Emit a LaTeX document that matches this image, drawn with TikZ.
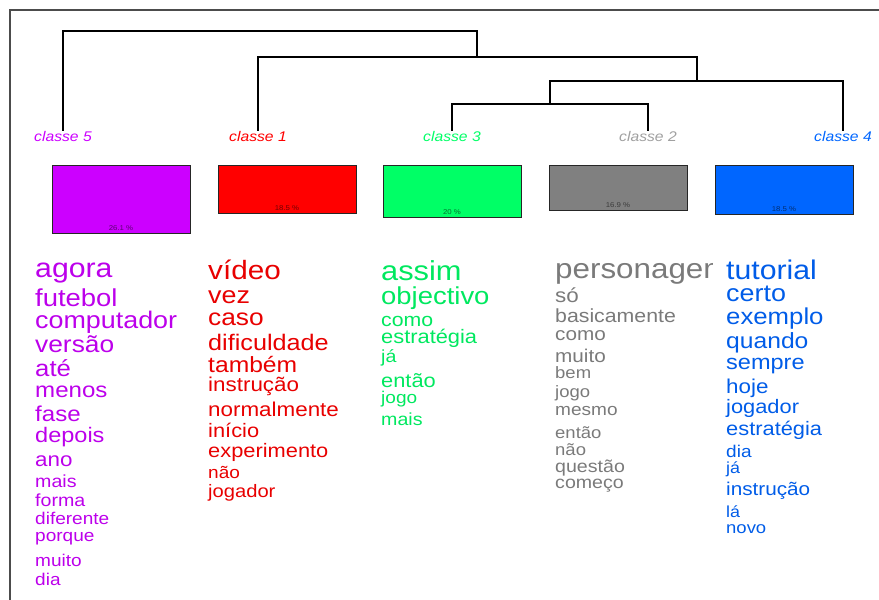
\documentclass[tikz,border=0pt]{standalone}
\usepackage{fontspec}
\setmainfont{Liberation Sans}[FakeStretch=1.12]
\usetikzlibrary{positioning}

% class colours: bar fill, word text, leaf label
\definecolor{cl5}{RGB}{204,0,255}
\definecolor{cl1}{RGB}{255,0,0}
\definecolor{cl3}{RGB}{0,255,102}
\definecolor{cl2}{RGB}{128,128,128}
\definecolor{cl4}{RGB}{0,102,255}
\definecolor{tx5}{RGB}{188,0,235}
\definecolor{tx1}{RGB}{232,0,0}
\definecolor{tx3}{RGB}{0,232,95}
\definecolor{tx2}{RGB}{122,122,122}
\definecolor{tx4}{RGB}{0,92,232}
\definecolor{lb2}{RGB}{160,160,160}

\begin{document}
\begin{tikzpicture}[
  x=1pt, y=-1pt,
  frame/.style={draw=black!70, line width=1.4pt},
  branch/.style={draw=black, line width=1.1pt},
  cls/.style={font=\fontsize{14}{15}\selectfont\itshape, anchor=base, inner sep=0pt},
  bar/.style={draw=black!85, line width=0.8pt, minimum width=138pt, anchor=north, inner sep=0pt},
  pct/.style={font=\fontsize{7}{8}\selectfont, inner sep=0pt},
  word/.style={anchor=base west, inner sep=0pt}
]
\useasboundingbox (0,0) rectangle (879,600);
\draw[frame] (10,600) |- (879,10);

% leaves of the tree
\node[cls, text=cl5] (c5) at (63,141) {classe 5};
\node[cls, text=cl1] (c1) at (258,141) {classe 1};
\node[cls, text=cl3] (c3) at (452,141) {classe 3};
\node[cls, text=lb2] (c2) at (648,141) {classe 2};
\node[cls, text=cl4] (c4) at (843,141) {classe 4};

% merge points
\coordinate (m1) at (270,31);
\coordinate (m2) at (477,57);
\coordinate (m3) at (697,81);
\coordinate (m4) at (550,104);

\draw[branch] (c3.north) |- (m4) -| (c2.north);
\draw[branch] (m4) |- (m3) -| (c4.north);
\draw[branch] (c1.north) |- (m2) -| (m3);
\draw[branch] (c5.north) |- (m1) -| (m2);

% class sizes
\node[bar, fill=cl5, minimum height=68pt] (b5) at (121,165) {};
\node[bar, fill=cl1, minimum height=48pt] (b1) at (287,165) {};
\node[bar, fill=cl3, minimum height=52pt] (b3) at (452,165) {};
\node[bar, fill=cl2, minimum height=45pt] (b2) at (618,165) {};
\node[bar, fill=cl4, minimum height=49pt] (b4) at (784,165) {};

\node[pct, text=black!55!cl5, above=3pt of b5.south] (p5) {26.1 \%};
\node[pct, text=black!55!cl1, above=3pt of b1.south] (p1) {18.5 \%};
\node[pct, text=black!55!cl3, above=3pt of b3.south] (p3) {20 \%};
\node[pct, text=black!55!cl2, above=3pt of b2.south] (p2) {16.9 \%};
\node[pct, text=black!55!cl4, above=3pt of b4.south] (p4) {18.5 \%};

% word lists: word / size / baseline
\foreach \w/\s/\y [count=\i] in {agora/27/277, futebol/24.5/306, computador/24/328,
    versão/23.5/352, até/23/376, menos/21.5/397, fase/21.5/421, depois/21/442,
    ano/20/466, mais/17.5/487, forma/17.5/506, diferente/17/524, porque/17/541,
    muito/17/566, dia/17/585}
  \node[word, text=tx5, font=\fontsize{\s}{\s}\selectfont] (w5-\i) at (35,\y) {\w};

\foreach \w/\s/\y [count=\i] in {vídeo/26.5/279, vez/24/303, caso/23.5/325,
    dificuldade/22.5/350, também/22/372, instrução/20/391, normalmente/20/416,
    início/19.5/437, experimento/19.5/457, não/17/478, jogador/18/497}
  \node[word, text=tx1, font=\fontsize{\s}{\s}\selectfont] (w1-\i) at (208,\y) {\w};

\foreach \w/\s/\y [count=\i] in {assim/27.5/280, objectivo/24.5/304, como/19/326,
    estratégia/19.5/343, já/17.5/362, então/19.5/387, jogo/17/403, mais/17.5/425}
  \node[word, text=tx3, font=\fontsize{\s}{\s}\selectfont] (w3-\i) at (381,\y) {\w};

\begin{scope}
  \clip (540,240) rectangle (712,600);
  \foreach \w/\s/\y [count=\i] in {personagem/28/278, só/20/302, basicamente/19/322,
      como/18.5/340, muito/18.5/362, bem/16.5/378, jogo/16.5/397, mesmo/17/415,
      então/16.5/438, não/16.5/455, questão/17.5/472, começo/17.5/488}
    \node[word, text=tx2, font=\fontsize{\s}{\s}\selectfont] (w2-\i) at (555,\y) {\w};
\end{scope}

\foreach \w/\s/\y [count=\i] in {tutorial/27/279, certo/24/301, exemplo/23/324,
    quando/22/348, sempre/21/369, hoje/20/393, jogador/19.5/413, estratégia/19.5/435,
    dia/17/457, já/16/473, instrução/18.5/495, lá/16/517, novo/16.5/533}
  \node[word, text=tx4, font=\fontsize{\s}{\s}\selectfont] (w4-\i) at (726,\y) {\w};
\end{tikzpicture}
\end{document}
